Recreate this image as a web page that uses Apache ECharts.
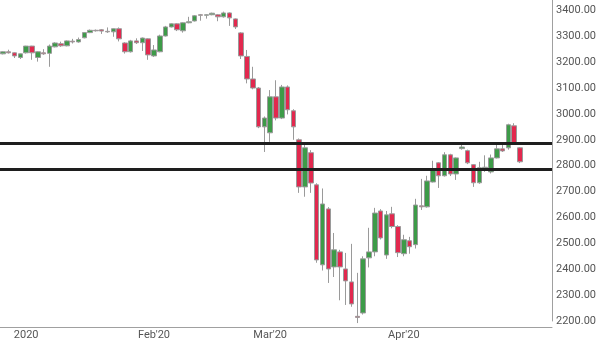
<!DOCTYPE html>
<html><head><meta charset="utf-8">
<script src="https://cdn.jsdelivr.net/npm/echarts@6/dist/echarts.min.js"></script>
<style>html,body{margin:0;padding:0;background:#fff}#c{width:599px;height:341px}</style>
</head><body><div id="c"></div>
<script>
const dates = ['2019-12-26','2019-12-27','2019-12-30','2019-12-31',
'2020-01-02','2020-01-03','2020-01-06','2020-01-07','2020-01-08','2020-01-09','2020-01-10','2020-01-13','2020-01-14','2020-01-15','2020-01-16','2020-01-17','2020-01-20','2020-01-21','2020-01-22','2020-01-23','2020-01-24','2020-01-27','2020-01-28','2020-01-29','2020-01-30','2020-01-31',
'2020-02-03','2020-02-04','2020-02-05','2020-02-06','2020-02-07','2020-02-10','2020-02-11','2020-02-12','2020-02-13','2020-02-14','2020-02-17','2020-02-18','2020-02-19','2020-02-20','2020-02-21','2020-02-24','2020-02-25','2020-02-26','2020-02-27','2020-02-28',
'2020-03-02','2020-03-03','2020-03-04','2020-03-05','2020-03-06','2020-03-09','2020-03-10','2020-03-11','2020-03-12','2020-03-13','2020-03-16','2020-03-17','2020-03-18','2020-03-19','2020-03-20','2020-03-23','2020-03-24','2020-03-25','2020-03-26','2020-03-27','2020-03-30','2020-03-31',
'2020-04-01','2020-04-02','2020-04-03','2020-04-06','2020-04-07','2020-04-08','2020-04-09','2020-04-13','2020-04-14','2020-04-15','2020-04-16','2020-04-17','2020-04-20','2020-04-21','2020-04-22','2020-04-23','2020-04-24','2020-04-27','2020-04-28','2020-04-29','2020-04-30','2020-05-01'];
const padDates = ['2020-05-04','2020-05-05','2020-05-06','2020-05-07','2020-05-08'];
const open  = [3232,3240,3236,3218, 3236,3262,3218,3236,3234,3259,3271,3263,3281,3278,3294,3314,3323,3325,3319,3317,3329,3274,3240,3282,3275,3290,
 3224,3240,3301,3336,3348,3321,3352,3359,3383,3381,3383,3383,3375,3390,3367,3313,3222,3135,3100,2950,
 2927,3066,2984,3104,3012,2900,2718,2850,2726,2417,2633,2409,2467,2401,2351,2218,2231,2444,2467,2625,2455,2614,
 2565,2460,2510,2495,2645,2641,2737,2811,2761,2842,2768,2866,2858,2804,2734,2792,2776,2830,2865,2869,2954,2869];
const close = [3240,3236,3224,3232, 3262,3236,3240,3232,3262,3274,3263,3282,3278,3287,3314,3323,3321,3320,3317,3329,3290,3240,3282,3275,3293,3228,
 3247,3301,3336,3348,3325,3352,3356,3379,3381,3383,3389,3375,3390,3371,3336,3224,3135,3100,2950,2984,
 3066,2984,3104,3016,2950,2718,2869,2733,2436,2652,2401,2475,2409,2355,2266,2214,2440,2467,2617,2521,2610,2565,
 2464,2514,2487,2648,2641,2741,2784,2761,2842,2768,2830,2872,2811,2734,2792,2794,2830,2865,2857,2958,2888,2815];
const low   = [3230,3233,3216,3212, 3233,3209,3202,3228,3182,3257,3259,3261,3272,3275,3292,3312,3318,3309,3313,3298,3280,3233,3237,3270,3243,3209,
 3220,3238,3299,3334,3320,3314,3350,3357,3360,3368,3381,3358,3372,3340,3328,3212,3118,3095,2945,2853,
 2892,2975,2980,2998,2900,2695,2680,2695,2425,2395,2347,2370,2280,2262,2255,2192,2225,2407,2450,2515,2440,2558,
 2447,2450,2460,2480,2629,2638,2735,2714,2758,2760,2745,2862,2806,2718,2730,2776,2770,2828,2853,2862,2880,2810];
const high  = [3242,3248,3238,3233, 3263,3263,3242,3250,3268,3277,3279,3284,3290,3295,3316,3326,3326,3328,3334,3330,3334,3277,3286,3292,3295,3292,
 3266,3306,3340,3350,3350,3354,3375,3382,3386,3385,3391,3386,3395,3392,3369,3316,3247,3182,3104,2990,
 3092,3130,3112,3110,3018,2905,2882,2860,2732,2712,2640,2540,2475,2463,2498,2386,2450,2560,2637,2632,2625,2641,
 2570,2533,2525,2672,2749,2761,2819,2814,2852,2846,2832,2884,2862,2806,2815,2840,2843,2888,2880,2962,2964,2872];
const monthLabels = {'2020-01-02':'2020','2020-02-03':"Feb'20",'2020-03-02':"Mar'20",'2020-04-02':"Apr'20"};
const levels = [2886, 2786];

const cats = dates.concat(padDates);
const candles = dates.map((d,i)=>[open[i],close[i],low[i],high[i]]);

const chart = echarts.init(document.getElementById('c'), null, {renderer:'canvas'});
chart.setOption({
  animation:false,
  backgroundColor:'#fff',
  grid:{left:-4.4, right:47, top:0, bottom:19.5, containLabel:false},
  xAxis:{
    type:'category', data:cats, boundaryGap:true, offset:6,
    axisLine:{show:true, lineStyle:{color:'#a0a0a0', width:1}},
    axisTick:{show:false},
    splitLine:{show:false},
    axisLabel:{
      interval:(idx,val)=>monthLabels[val]!==undefined,
      formatter:v=>monthLabels[v]||'',
      color:'#555', fontSize:11, fontFamily:'Roboto', margin:3
    }
  },
  yAxis:{
    type:'value', position:'right', min:2200, max:3440, interval:100, scale:false,
    axisLine:{show:true, lineStyle:{color:'#a0a0a0', width:1}},
    axisTick:{show:false},
    splitLine:{show:false},
    axisLabel:{
      showMaxLabel:false,
      formatter:v=> (v%100===0 && v<=3400) ? v.toFixed(2) : '',
      color:'#555', fontSize:11, fontFamily:'Roboto', margin:4
    }
  },
  series:[{
    type:'candlestick', data:candles, barWidth:5, clip:false,
    itemStyle:{color:'#3d9b48', color0:'#e2284e', borderColor:'#9a9a9a', borderColor0:'#9a9a9a', borderWidth:1},
    markLine:{
      silent:true, symbol:['none','none'], animation:false,
      label:{show:false},
      lineStyle:{color:'#1e1e1e', width:3, type:'solid'},
      data: levels.map(v=>({yAxis:v}))
    }
  }]
});
</script></body></html>
